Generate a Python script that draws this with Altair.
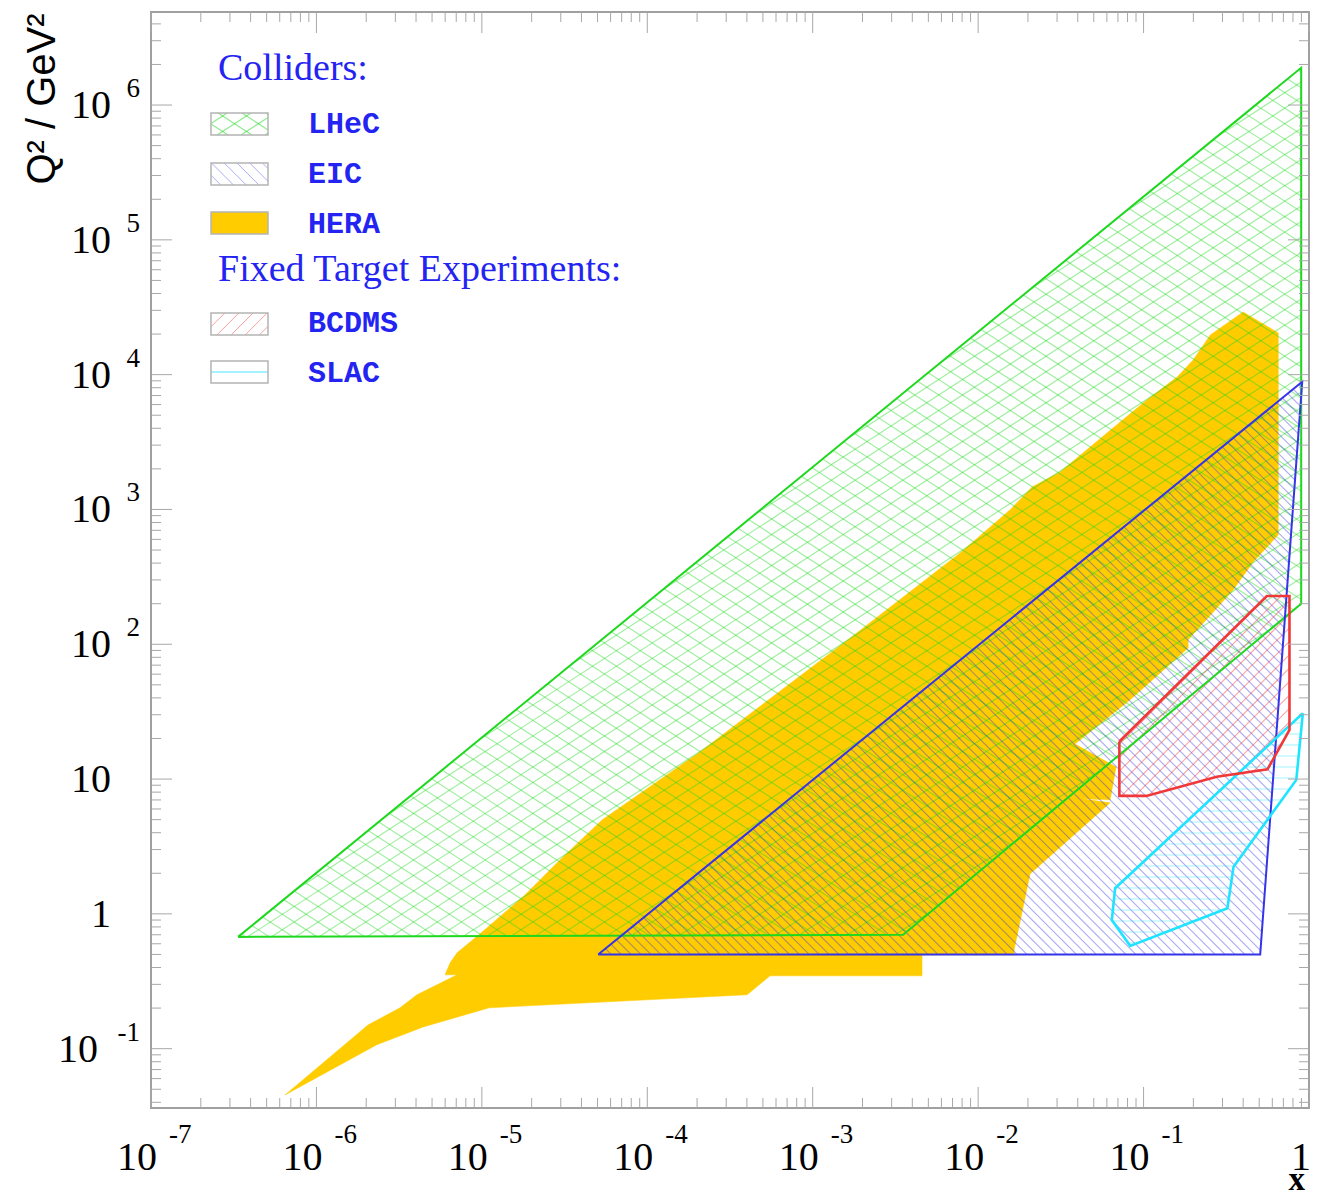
import math
import altair as alt
import pandas as pd

# ---------------- axis ranges / plot size ----------------
X_MIN, X_MAX = 1e-7, 1.0
Y_MIN, Y_MAX = 0.0363, 4.9e6
W, H = 1158, 1096

# ---------------- kinematic regions (x, Q^2 / GeV^2) ----------------
lhec_x = [3.36e-7, 0.897, 0.897, 3.52e-3]
lhec_q2 = [0.675, 1.89e6, 200.0, 0.70]

eic_x = [5.05e-5, 0.91, 0.507]
eic_q2 = [0.50, 8850.0, 0.50]

hera_x = [6.46e-7, 2.05e-6, 3.20e-6, 4.05e-6, 7.08e-6, 5.99e-6, 6.43e-6, 7.08e-6,
          9.75e-6, 1.82e-5, 2.97e-5, 5.33e-5, 2.08e-4, 1.68e-3, 7.78e-3, 0.0156,
          0.0212, 0.0313, 0.0603, 0.105, 0.160, 0.200, 0.253, 0.400, 0.652, 0.652,
          0.460, 0.348, 0.186, 0.186, 0.083, 0.0385, 0.0682, 0.0628, 0.0426, 0.0628,
          0.0206, 0.0165, 0.0165, 4.58e-3, 4.58e-3, 5.52e-4, 4.01e-4, 1.11e-5,
          4.42e-6, 2.32e-6]
hera_q2 = [0.0454, 0.150, 0.201, 0.251, 0.353, 0.353, 0.433, 0.514, 0.711, 1.38,
           2.52, 4.98, 15.9, 111, 476, 993, 1470, 1900, 3700, 6500, 9640, 12900,
           19700, 29200, 20400, 648, 408, 253, 108, 94, 38.7, 18.2, 12.3, 7.01, 7.13,
           6.66, 1.98, 0.541, 0.497, 0.497, 0.347, 0.347, 0.251, 0.201, 0.145, 0.107]

bcdms_x = [0.0714, 0.556, 0.762, 0.762, 0.561, 0.277, 0.104, 0.0714]
bcdms_q2 = [19.0, 228, 228, 23.2, 11.8, 10.4, 7.5, 7.5]

slac_x = [0.918, 0.838, 0.350, 0.321, 0.083, 0.0643, 0.0673]
slac_q2 = [30.8, 9.86, 2.24, 1.10, 0.579, 0.90, 1.55]

# ---------------- tick labels ----------------
x_tick_vals = [1e-7, 1e-6, 1e-5, 1e-4, 1e-3, 1e-2, 1e-1]
x_tick_exp = ["-7", "-6", "-5", "-4", "-3", "-2", "-1"]
y_tick_vals = [1e2, 1e3, 1e4, 1e5, 1e6]
y_tick_exp = ["2", "3", "4", "5", "6"]

legend_headers = ["Colliders:", "Fixed Target Experiments:"]
legend_names = ["LHeC", "EIC", "HERA", "BCDMS", "SLAC"]

# ---------------- colours ----------------
GREEN, BLUE, GOLD, RED, CYAN = "#1ed81e", "#3434e8", "#ffcc00", "#f03838", "#1ee4ff"
TEXT_BLUE = "#2424f2"
TICK = "#a8a8a8"

XS = alt.Scale(type="log", domain=[X_MIN, X_MAX], nice=False)
YS = alt.Scale(type="log", domain=[Y_MIN, Y_MAX], nice=False)

LX0, LX1 = math.log10(X_MIN), math.log10(X_MAX)
LY0, LY1 = math.log10(Y_MIN), math.log10(Y_MAX)
KX = W / (LX1 - LX0)
KY = H / (LY1 - LY0)


def to_uv(x, y):
    return (math.log10(x) - LX0) * KX, (math.log10(y) - LY0) * KY


def from_uv(u, v):
    return 10 ** (u / KX + LX0), 10 ** (v / KY + LY0)


def px2data(px, py):
    return from_uv(px, H - py)


def hatch(xs, ys, angle, spacing, phase=0.0):
    pts = [to_uv(a, b) for a, b in zip(xs, ys)]
    th = math.radians(angle)
    dx, dy = math.cos(th), math.sin(th)
    nx, ny = -dy, dx
    proj = [p[0] * nx + p[1] * ny for p in pts]
    k0 = math.ceil((min(proj) - phase) / spacing)
    k1 = math.floor((max(proj) - phase) / spacing)
    rows = []
    n = len(pts)
    for k in range(k0, k1 + 1):
        c = k * spacing + phase + 1e-7
        ts = []
        for i in range(n):
            p, q = pts[i], pts[(i + 1) % n]
            a = p[0] * nx + p[1] * ny - c
            b = q[0] * nx + q[1] * ny - c
            if (a < 0) != (b < 0):
                t = a / (a - b)
                ix = p[0] + t * (q[0] - p[0])
                iy = p[1] + t * (q[1] - p[1])
                ts.append(ix * dx + iy * dy)
        ts.sort()
        for j in range(0, len(ts) - 1, 2):
            x0, y0 = from_uv(c * nx + ts[j] * dx, c * ny + ts[j] * dy)
            x1, y1 = from_uv(c * nx + ts[j + 1] * dx, c * ny + ts[j + 1] * dy)
            rows.append({"x": x0, "y": y0, "x2": x1, "y2": y1})
    return pd.DataFrame(rows, columns=["x", "y", "x2", "y2"])


def rules(df, color, opacity, width=1.0):
    return alt.Chart(df).mark_rule(color=color, opacity=opacity, strokeWidth=width).encode(
        x=alt.X("x:Q", scale=XS, axis=None), y=alt.Y("y:Q", scale=YS, axis=None),
        x2="x2:Q", y2="y2:Q")


def poly_df(xs, ys, close=True):
    xx, yy = list(xs), list(ys)
    if close:
        xx, yy = xx + [xx[0]], yy + [yy[0]]
    return pd.DataFrame({"x": xx, "y": yy, "i": list(range(len(xx)))})


def outline(xs, ys, color, width):
    return alt.Chart(poly_df(xs, ys)).mark_line(color=color, strokeWidth=width, strokeJoin="miter").encode(
        x=alt.X("x:Q", scale=XS, axis=None), y=alt.Y("y:Q", scale=YS, axis=None), order="i:Q")


layers = []

# HERA solid region
layers.append(alt.Chart(poly_df(hera_x, hera_q2)).mark_line(color=GOLD, fill=GOLD, strokeWidth=0.5).encode(
    x=alt.X("x:Q", scale=XS, axis=None), y=alt.Y("y:Q", scale=YS, axis=None), order="i:Q"))

# hatching
HS_L, HS_E, HS_B, HS_S = 13.0, 7.0, 9.5, 11.0
ANG_L = 33
layers.append(rules(hatch(lhec_x, lhec_q2, ANG_L, HS_L), GREEN, 0.42, 1.2))
layers.append(rules(hatch(lhec_x, lhec_q2, -ANG_L, HS_L), GREEN, 0.42, 1.2))
layers.append(rules(hatch(eic_x, eic_q2, -45, HS_E), BLUE, 0.42, 1.1))
layers.append(rules(hatch(bcdms_x, bcdms_q2, 45, HS_B), RED, 0.45, 1.1))
layers.append(rules(hatch(slac_x, slac_q2, 0, HS_S), CYAN, 0.4, 1.1))

# outlines
layers.append(outline(lhec_x, lhec_q2, GREEN, 2.0))
layers.append(outline(eic_x, eic_q2, BLUE, 2.0))
layers.append(outline(slac_x, slac_q2, CYAN, 2.6))
layers.append(outline(bcdms_x, bcdms_q2, RED, 2.6))

# ---------------- frame ticks ----------------
x_major = [10.0 ** k for k in range(-7, 1)]
x_minor = [m * 10.0 ** k for k in range(-7, 0) for m in range(2, 10)]
y_major = [10.0 ** k for k in range(-1, 7)]
y_minor = [m * 10.0 ** k for k in range(-2, 7) for m in range(2, 10) if Y_MIN < m * 10.0 ** k < Y_MAX]


def xticks(vals, y0, y1):
    return alt.Chart(pd.DataFrame({"v": vals})).mark_rule(color=TICK, strokeWidth=1).encode(
        x=alt.X("v:Q", scale=XS, axis=None), y=alt.value(y0), y2=alt.value(y1))


def yticks(vals, x0, x1):
    return alt.Chart(pd.DataFrame({"v": vals})).mark_rule(color=TICK, strokeWidth=1).encode(
        y=alt.Y("v:Q", scale=YS, axis=None), x=alt.value(x0), x2=alt.value(x1))


MAJ, MIN = 21, 10
layers += [xticks(x_major, H, H - MAJ), xticks(x_minor, H, H - MIN),
           xticks(x_major, 0, MAJ), xticks(x_minor, 0, MIN),
           yticks(y_major, 0, MAJ), yticks(y_minor, 0, MIN),
           yticks(y_major, W, W - MAJ), yticks(y_minor, W, W - MIN)]

# ---------------- tick labels ----------------
SERIF = "Liberation Serif"
xl = pd.DataFrame({"v": x_tick_vals, "e": x_tick_exp})
layers.append(alt.Chart(xl).mark_text(text="10", align="right", baseline="alphabetic", dx=6,
                                      font=SERIF, fontSize=40, color="black").encode(
    x=alt.X("v:Q", scale=XS, axis=None), y=alt.value(H + 62)))
layers.append(alt.Chart(xl).mark_text(align="left", baseline="alphabetic", dx=18,
                                      font=SERIF, fontSize=27, color="black").encode(
    x=alt.X("v:Q", scale=XS, axis=None), y=alt.value(H + 35), text="e:N"))
layers.append(alt.Chart(pd.DataFrame({"v": [1.0], "t": ["1"]})).mark_text(
    align="right", baseline="alphabetic", dx=2, font=SERIF, fontSize=40, color="black").encode(
    x=alt.X("v:Q", scale=XS, axis=None), y=alt.value(H + 62), text="t:N"))

yl = pd.DataFrame({"v": y_tick_vals, "e": y_tick_exp})
layers.append(alt.Chart(yl).mark_text(text="10", align="right", baseline="alphabetic", dy=13,
                                      font=SERIF, fontSize=40, color="black").encode(
    y=alt.Y("v:Q", scale=YS, axis=None), x=alt.value(-40)))
layers.append(alt.Chart(yl).mark_text(align="right", baseline="alphabetic", dy=-8,
                                      font=SERIF, fontSize=27, color="black").encode(
    y=alt.Y("v:Q", scale=YS, axis=None), x=alt.value(-11), text="e:N"))
ym = pd.DataFrame({"v": [0.1], "e": ["-1"]})
layers.append(alt.Chart(ym).mark_text(text="10", align="right", baseline="alphabetic", dy=13,
                                      font=SERIF, fontSize=40, color="black").encode(
    y=alt.Y("v:Q", scale=YS, axis=None), x=alt.value(-53)))
layers.append(alt.Chart(ym).mark_text(align="right", baseline="alphabetic", dy=-8,
                                      font=SERIF, fontSize=27, color="black").encode(
    y=alt.Y("v:Q", scale=YS, axis=None), x=alt.value(-11), text="e:N"))
yp = pd.DataFrame({"v": [1.0, 10.0], "t": ["1", "10"]})
layers.append(alt.Chart(yp).mark_text(align="right", baseline="alphabetic", dy=13,
                                      font=SERIF, fontSize=40, color="black").encode(
    y=alt.Y("v:Q", scale=YS, axis=None), x=alt.value(-40), text="t:N"))

# axis titles
layers.append(alt.Chart(pd.DataFrame({"t": ["Q² / GeV²"]})).mark_text(
    angle=270, align="center", baseline="middle", font="Liberation Sans", fontSize=40, color="black").encode(
    x=alt.value(-108), y=alt.value(87), text="t:N"))
layers.append(alt.Chart(pd.DataFrame({"t": ["x"]})).mark_text(
    align="right", baseline="alphabetic", font=SERIF, fontSize=33, fontWeight="bold", color="black").encode(
    x=alt.value(W - 4), y=alt.value(H + 82), text="t:N"))

# ---------------- legend ----------------
hx, hy = zip(*[px2data(67, 68), px2data(67, 269)])
layers.append(alt.Chart(pd.DataFrame({"x": hx, "y": hy, "t": legend_headers})).mark_text(
    align="left", baseline="alphabetic", font=SERIF, fontSize=38, color=TEXT_BLUE).encode(
    x=alt.X("x:Q", scale=XS, axis=None), y=alt.Y("y:Q", scale=YS, axis=None), text="t:N"))

sw_top = [101, 151, 200, 301, 349]
lab_base = [121, 171, 221, 320, 370]
lx, ly = zip(*[px2data(157, b) for b in lab_base])
layers.append(alt.Chart(pd.DataFrame({"x": lx, "y": ly, "t": legend_names})).mark_text(
    align="left", baseline="alphabetic", font="Liberation Mono", fontWeight="bold", fontSize=30,
    color=TEXT_BLUE).encode(
    x=alt.X("x:Q", scale=XS, axis=None), y=alt.Y("y:Q", scale=YS, axis=None), text="t:N"))

SW_X0, SW_X1, SW_H = 60, 117, 22
boxes = []
for t in sw_top:
    a = px2data(SW_X0, t)
    b = px2data(SW_X1, t + SW_H)
    boxes.append((a[0], b[0], a[1], b[1]))


def box_poly(bx):
    return [bx[0], bx[1], bx[1], bx[0]], [bx[3], bx[3], bx[2], bx[2]]


px_, py_ = box_poly(boxes[0])
layers.append(rules(hatch(px_, py_, ANG_L, HS_L), GREEN, 0.5, 1.2))
layers.append(rules(hatch(px_, py_, -ANG_L, HS_L), GREEN, 0.5, 1.2))
px_, py_ = box_poly(boxes[1])
layers.append(rules(hatch(px_, py_, -45, 9.0), BLUE, 0.4))
hb = pd.DataFrame([{"x": boxes[2][0], "x2": boxes[2][1], "y": boxes[2][2], "y2": boxes[2][3]}])
layers.append(alt.Chart(hb).mark_rect(color=GOLD).encode(
    x=alt.X("x:Q", scale=XS, axis=None), x2="x2:Q", y=alt.Y("y:Q", scale=YS, axis=None), y2="y2:Q"))
px_, py_ = box_poly(boxes[3])
layers.append(rules(hatch(px_, py_, 45, 10.0), "#f05050", 0.55))
px_, py_ = box_poly(boxes[4])
mid_v = to_uv(boxes[4][0], math.sqrt(boxes[4][2] * boxes[4][3]))[1]
layers.append(rules(hatch(px_, py_, 0, 1000.0, phase=mid_v), CYAN, 0.55, 1.5))
bdf = pd.DataFrame([{"x": b[0], "x2": b[1], "y": b[2], "y2": b[3]} for b in boxes])
layers.append(alt.Chart(bdf).mark_rect(fill=None, stroke="#b4b4b4", strokeWidth=1.5, filled=False).encode(
    x=alt.X("x:Q", scale=XS, axis=None), x2="x2:Q", y=alt.Y("y:Q", scale=YS, axis=None), y2="y2:Q"))

chart = alt.layer(*layers).properties(
    width=W, height=H,
    autosize=alt.AutoSizeParams(type="none"),
    padding={"left": 143, "top": 4, "right": 2, "bottom": 88},
    background="white",
).configure_view(stroke="#a0a0a0", strokeWidth=2)

chart.save("out.html", embed_options={"renderer": "svg", "actions": False})
